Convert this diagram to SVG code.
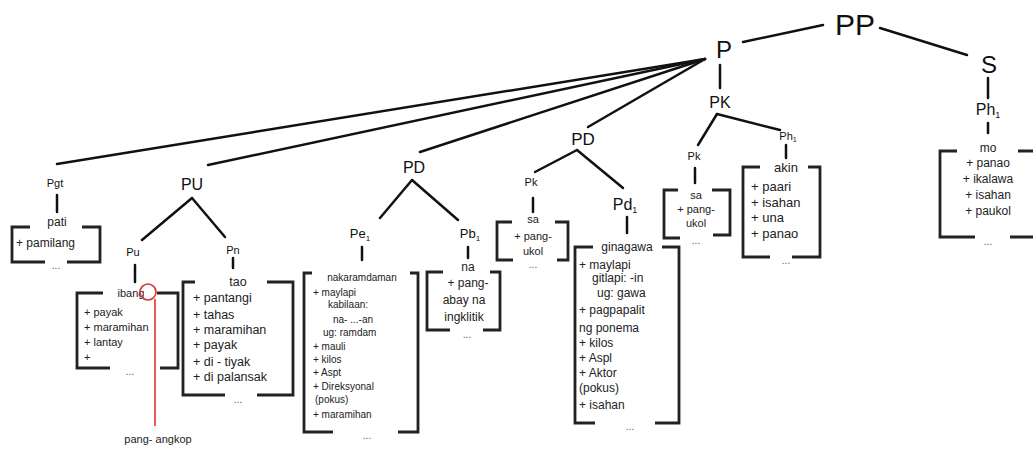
<svg xmlns="http://www.w3.org/2000/svg" width="1033" height="450" viewBox="0 0 1033 450">
  <style>
    .edge { stroke: #111; stroke-width: 2.5; fill: none; stroke-linecap: round; }
    .brk { stroke: #222; stroke-width: 2.8; fill: none; }
    .lbl { font-family: "Liberation Sans", Arial, sans-serif; fill: #111; text-anchor: middle; }
    .itm { font-family: "Liberation Sans", Arial, sans-serif; fill: #222; }
    .dots { font-family: "Liberation Sans", Arial, sans-serif; fill: #555; font-size: 10px; text-anchor: middle; }
    .red { stroke: #d33; stroke-width: 1.6; fill: none; }
  </style>
  <rect width="1033" height="450" fill="#fff"/>

  <!-- tree branches -->
  <g id="connectors">
    <line class="edge" x1="743" y1="42" x2="823" y2="25"/>
    <line class="edge" x1="880" y1="28" x2="967" y2="55"/>
    <line class="edge" x1="988" y1="78" x2="988" y2="98"/>
    <line class="edge" x1="988" y1="123" x2="988" y2="133"/>
    <line class="edge" x1="720" y1="65" x2="720" y2="88"/>
    <line class="edge" x1="717" y1="114" x2="698" y2="145"/>
    <line class="edge" x1="717" y1="114" x2="780" y2="130"/>
    <line class="edge" x1="695" y1="168" x2="695" y2="183"/>
    <line class="edge" x1="786" y1="145" x2="786" y2="158"/>
    <!-- fan from P -->
    <line class="edge" x1="705" y1="59" x2="57" y2="164"/>
    <line class="edge" x1="705" y1="59" x2="208" y2="165"/>
    <line class="edge" x1="705" y1="59" x2="420" y2="152"/>
    <line class="edge" x1="705" y1="59" x2="588" y2="127"/>
    <!-- Pgt -->
    <line class="edge" x1="57" y1="195" x2="57" y2="212"/>
    <!-- PU -->
    <line class="edge" x1="192" y1="198" x2="142" y2="240"/>
    <line class="edge" x1="192" y1="198" x2="225" y2="237"/>
    <line class="edge" x1="135" y1="265" x2="135" y2="282"/>
    <line class="edge" x1="233" y1="258" x2="233" y2="268"/>
    <!-- first PD -->
    <line class="edge" x1="412" y1="180" x2="380" y2="218"/>
    <line class="edge" x1="412" y1="180" x2="458" y2="220"/>
    <line class="edge" x1="362" y1="247" x2="362" y2="260"/>
    <line class="edge" x1="468" y1="247" x2="468" y2="258"/>
    <!-- second PD -->
    <line class="edge" x1="577" y1="150" x2="535" y2="172"/>
    <line class="edge" x1="577" y1="150" x2="623" y2="188"/>
    <line class="edge" x1="533" y1="198" x2="533" y2="212"/>
    <line class="edge" x1="627" y1="217" x2="627" y2="233"/>
  </g>

  <g id="node-PP"><text class="lbl" x="855" y="35" font-size="30">PP</text></g>
  <g id="node-P"><text class="lbl" x="724" y="58" font-size="24">P</text></g>
  <g id="node-S"><text class="lbl" x="989" y="73" font-size="24">S</text></g>

  <g id="node-S-Ph">
    <text class="lbl" x="988" y="115" font-size="16">Ph<tspan font-size="9" dy="3">1</tspan></text>
    <path class="brk" d="M957,151 H940 V237 H975 M1018,151 H1034 M1010,237 H1034"/>
    <g class="itm" font-size="12" text-anchor="middle">
      <text x="988" y="152">mo</text>
      <text x="988" y="167">+ panao</text>
      <text x="988" y="183">+ ikalawa</text>
      <text x="988" y="199">+ isahan</text>
      <text x="988" y="215">+ paukol</text>
    </g>
    <text class="dots" x="988" y="245">...</text>
  </g>

  <g id="node-PK"><text class="lbl" x="720" y="108" font-size="16">PK</text></g>

  <g id="node-PK-Pk">
    <text class="lbl" x="694" y="160" font-size="11">Pk</text>
    <path class="brk" d="M678,190 H664 V238 H680 M712,190 H730 V235 H713"/>
    <g class="itm" font-size="11" text-anchor="middle">
      <text x="696" y="199">sa</text>
      <text x="696" y="213">+ pang-</text>
      <text x="696" y="227">ukol</text>
    </g>
    <text class="dots" x="696" y="244">...</text>
  </g>

  <g id="node-PK-Ph">
    <text class="lbl" x="788" y="140" font-size="11">Ph<tspan font-size="7" dy="2">1</tspan></text>
    <path class="brk" d="M760,167 H743 V257 H770 M808,167 H820 V257 H792"/>
    <g class="itm" font-size="13">
      <text x="786" y="172" text-anchor="middle">akin</text>
      <text x="751" y="191">+ paari</text>
      <text x="751" y="207">+ isahan</text>
      <text x="751" y="222">+ una</text>
      <text x="751" y="238">+ panao</text>
    </g>
    <text class="dots" x="786" y="264">...</text>
  </g>

  <g id="node-Pgt">
    <text class="lbl" x="55" y="187" font-size="11">Pgt</text>
    <path class="brk" d="M30,227 H12 V262 H45 M82,227 H100 V262 H67"/>
    <g class="itm" font-size="12">
      <text x="57" y="226" text-anchor="middle">pati</text>
      <text x="16" y="247">+ pamilang</text>
    </g>
    <text class="dots" x="56" y="269">...</text>
  </g>

  <g id="node-PU"><text class="lbl" x="192" y="190" font-size="16">PU</text></g>

  <g id="node-Pu">
    <text class="lbl" x="133" y="256" font-size="11">Pu</text>
    <path class="brk" d="M103,293 H77 V368 H110 M157,293 H178 V368 H160"/>
    <g class="itm" font-size="11">
      <text x="131" y="297" text-anchor="middle">ibang</text>
      <text x="84" y="316">+ payak</text>
      <text x="84" y="331">+ maramihan</text>
      <text x="84" y="346">+ lantay</text>
      <text x="84" y="361">+</text>
    </g>
    <text class="dots" x="130" y="375">...</text>
    <circle class="red" cx="148" cy="292" r="8"/>
    <line class="red" x1="155" y1="299" x2="155" y2="426"/>
    <text class="itm" x="158" y="443" font-size="11" text-anchor="middle">pang- angkop</text>
  </g>

  <g id="node-Pn">
    <text class="lbl" x="233" y="254" font-size="11">Pn</text>
    <path class="brk" d="M195,282 H183 V395 H225 M267,282 H293 V395 H257"/>
    <g class="itm" font-size="12.5">
      <text x="238" y="286" text-anchor="middle">tao</text>
      <text x="193" y="302">+ pantangi</text>
      <text x="193" y="319">+ tahas</text>
      <text x="193" y="334">+ maramihan</text>
      <text x="193" y="349">+ payak</text>
      <text x="193" y="366">+ di - tiyak</text>
      <text x="193" y="381">+ di palansak</text>
    </g>
    <text class="dots" x="238" y="403">...</text>
  </g>

  <g id="node-PD1"><text class="lbl" x="414" y="173" font-size="16">PD</text></g>

  <g id="node-Pe">
    <text class="lbl" x="360" y="238" font-size="13">Pe<tspan font-size="8" dy="3">1</tspan></text>
    <path class="brk" d="M312,273 H304 V432 H333 M410,273 H418 V432 H398"/>
    <g class="itm" font-size="10">
      <text x="362" y="281" text-anchor="middle">nakaramdaman</text>
      <text x="313" y="296">+ maylapi</text>
      <text x="328" y="308">kabilaan:</text>
      <text x="333" y="323">na- ...-an</text>
      <text x="323" y="336">ug: ramdam</text>
      <text x="313" y="350">+ mauli</text>
      <text x="313" y="363">+ kilos</text>
      <text x="313" y="376">+ Aspt</text>
      <text x="313" y="390">+ Direksyonal</text>
      <text x="315" y="403">(pokus)</text>
      <text x="313" y="418">+ maramihan</text>
    </g>
    <text class="dots" x="367" y="439">...</text>
  </g>

  <g id="node-Pb">
    <text class="lbl" x="470" y="238" font-size="13">Pb<tspan font-size="8" dy="3">1</tspan></text>
    <path class="brk" d="M443,272 H427 V330 H450 M490,272 H500 V330 H483"/>
    <g class="itm" font-size="12" text-anchor="middle">
      <text x="468" y="271">na</text>
      <text x="468" y="287">+ pang-</text>
      <text x="464" y="304">abay na</text>
      <text x="464" y="321">ingklitik</text>
    </g>
    <text class="dots" x="467" y="338">...</text>
  </g>

  <g id="node-PD2"><text class="lbl" x="583" y="145" font-size="17">PD</text></g>

  <g id="node-PD2-Pk">
    <text class="lbl" x="531" y="186" font-size="11">Pk</text>
    <path class="brk" d="M512,222 H497 V260 H513 M555,222 H568 V260 H557"/>
    <g class="itm" font-size="11" text-anchor="middle">
      <text x="533" y="223">sa</text>
      <text x="533" y="240">+ pang-</text>
      <text x="533" y="255">ukol</text>
    </g>
    <text class="dots" x="533" y="268">...</text>
  </g>

  <g id="node-Pd">
    <text class="lbl" x="625" y="210" font-size="16">Pd<tspan font-size="9" dy="3">1</tspan></text>
    <path class="brk" d="M593,247 H575 V423 H595 M662,247 H679 V423 H655"/>
    <g class="itm" font-size="12">
      <text x="627" y="251" text-anchor="middle">ginagawa</text>
      <text x="579" y="269">+ maylapi</text>
      <text x="592" y="282">gitlapi: -in</text>
      <text x="597" y="297">ug: gawa</text>
      <text x="579" y="314">+ pagpapalit</text>
      <text x="579" y="332">ng ponema</text>
      <text x="579" y="347">+ kilos</text>
      <text x="579" y="362">+ Aspl</text>
      <text x="579" y="377">+ Aktor</text>
      <text x="579" y="392">(pokus)</text>
      <text x="579" y="409">+ isahan</text>
    </g>
    <text class="dots" x="630" y="430">...</text>
  </g>
</svg>
